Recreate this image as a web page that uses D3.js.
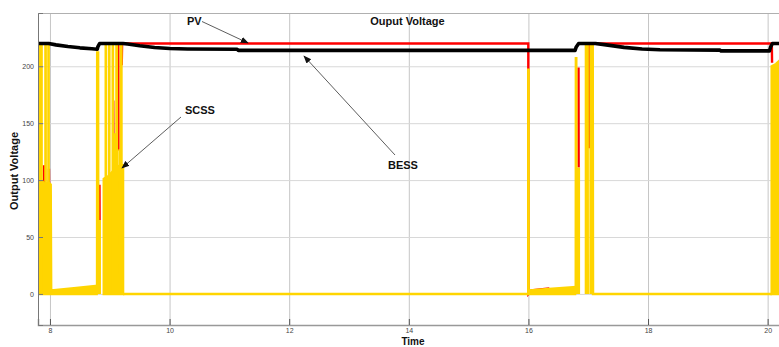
<!DOCTYPE html>
<html><head><meta charset="utf-8">
<script src="https://cdn.jsdelivr.net/npm/d3@7"></script>
<style>
body{margin:0;background:#fff}
svg{display:block}
text{font-family:"Liberation Sans",Arial,Helvetica,sans-serif}
</style>
</head><body>
<svg id="c" width="779" height="347"></svg>
<script>
// ---- data ----
const xTicks = [8, 10, 12, 14, 16, 18, 20];
const yTicks = [0, 50, 100, 150, 200];
const xDomain = [7.8, 20.2];
const yDomain = [-27.3, 246.8];

// PV output voltage (red); null breaks the line
const pvData = [
  [7.803,110],[7.806,80],null,
  [7.900,113],[7.903,83],null,
  [7.983,110],[7.986,87],null,
  [8.03,3],[8.2,2.5],null,
  [8.828,96],[8.830,65],null,
  [9.058,170],[9.061,140],null,
  [9.143,220],[9.146,126],null,
  [9.200,201],[9.206,220],[15.998,220],[16.001,0],[16.05,3],[16.35,4.8],null,
  [16.838,199],[16.840,111],null,
  [17.013,128],[17.017,220],[20.07,220],[20.074,203]
];

// BESS output voltage (black)
const bessData = [
  [7.8,220],[7.98,220],[8.1,218.8],[8.3,217.3],[8.5,216.2],[8.7,215.4],[8.79,215],
  [8.80,217],[8.83,220],[9.22,220],[9.3,219.5],[9.5,218],[9.75,216.5],[10.0,215.6],
  [10.3,215.2],[11.13,215],[11.15,214],[16.78,214],[16.80,217],[16.84,220],[17.12,220],
  [17.3,218.8],[17.6,216.6],[17.9,215.2],[18.2,214.5],[19.2,214.2],[19.22,213.5],
  [20.03,213.5],[20.05,217],[20.08,220],[20.2,220]
];

// SCSS output voltage (yellow): dense-switching envelopes [t, upper], lower = 0
const scssBandA = [[7.80,100],[7.83,97],[7.87,99],[7.92,96],[7.97,98],[8.012,96],[8.02,3],[8.4,5],[8.78,7]];
const scssBandC = [[8.90,101],[8.97,103],[9.04,107],[9.11,111],[9.18,113],[9.222,113]];
const scssBandD = [[16.01,3],[16.4,4.5],[16.78,6]];
const scssBandE = [[20.068,200],[20.14,202],[20.2,205]];

// SCSS spikes and baseline
const scssData = [
  [7.824,0],[7.824,219],[7.827,219],[7.827,0],null,
  [7.857,0],[7.857,219],[7.860,219],[7.860,0],null,
  [7.925,0],[7.925,219],[7.928,219],[7.928,0],null,
  [7.975,0],[7.975,219],[7.978,219],[7.978,0],null,
  [8.788,0],[8.790,212],[8.805,212],[8.807,0],null,
  [8.832,0],[8.832,65],null,
  [8.933,0],[8.933,219],[8.936,219],[8.936,0],null,
  [8.990,0],[8.990,219],[8.993,219],[8.993,0],null,
  [9.050,0],[9.050,219],[9.053,219],[9.053,0],null,
  [9.075,0],[9.075,140],[9.078,140],[9.078,0],null,
  [9.112,0],[9.112,219],[9.118,219],[9.120,0],null,
  [9.165,0],[9.165,126],[9.168,126],[9.168,0],null,
  [9.185,0],[9.185,219],[9.195,219],[9.197,0],null,
  [9.222,0],[15.998,0],[15.998,197],[16.003,197],[16.003,0],null,
  [16.792,0],[16.794,207],[16.800,207],[16.802,0],null,
  [16.843,0],[16.843,111],null,
  [16.962,0],[16.962,219],[16.990,219],[16.992,0],null,
  [17.040,0],[17.040,219],[17.075,219],[17.080,0],[20.07,0]
];

// ---- layout ----
const pLeft = 38, pRight = 779.6, pTop = 13, pBottom = 325;

const svg = d3.select("#c");
const x = d3.scaleLinear().domain(xDomain).range([pLeft, pRight]);
const y = d3.scaleLinear().domain(yDomain).range([pBottom, pTop]);

const defs = svg.append("defs");
defs.append("clipPath").attr("id","clip")
  .append("rect").attr("x",pLeft).attr("y",pTop).attr("width",pRight-pLeft).attr("height",pBottom-pTop);
const mk = defs.append("marker").attr("id","arr")
  .attr("viewBox","0 0 10 10").attr("refX",9).attr("refY",5)
  .attr("markerWidth",8).attr("markerHeight",8).attr("markerUnits","userSpaceOnUse")
  .attr("orient","auto");
mk.append("path").attr("d","M0,1 L10,5 L0,9 Z").attr("fill","#111");

// grid
const gx = svg.append("g").attr("transform",`translate(0,${pBottom})`)
  .call(d3.axisBottom(x).tickValues(xTicks).tickSize(-(pBottom-pTop)).tickFormat(""));
gx.select(".domain").remove();
gx.selectAll("line").attr("stroke","#c6c6c6").attr("stroke-width",1);
const gy = svg.append("g").attr("transform",`translate(${pLeft},0)`)
  .call(d3.axisLeft(y).tickValues(yTicks).tickSize(-(pRight-pLeft)).tickFormat(""));
gy.select(".domain").remove();
gy.selectAll("line").attr("stroke","#d8d8d8").attr("stroke-width",1);

// frame
svg.append("line").attr("x1",pLeft).attr("x2",pRight).attr("y1",pTop+0.5).attr("y2",pTop+0.5).attr("stroke","#b0b0b0");

// plot
const plot = svg.append("g").attr("clip-path","url(#clip)");
const line = d3.line().defined(d => d !== null).x(d => x(d[0])).y(d => y(d[1]));
const area = d3.area().x(d => x(d[0])).y0(y(0)).y1(d => y(d[1]));

plot.append("path").datum(pvData).attr("d",line)
  .attr("fill","none").attr("stroke","#ff0000").attr("stroke-width",2.4).attr("stroke-linejoin","miter");

[scssBandA, scssBandC, scssBandD, scssBandE].forEach(b => {
  plot.append("path").datum(b).attr("d",area)
    .attr("fill","#ffd500").attr("stroke","#ffd500").attr("stroke-width",2.5);
});
plot.append("path").datum(scssData).attr("d",line)
  .attr("fill","none").attr("stroke","#ffd500").attr("stroke-width",2.5).attr("stroke-linejoin","miter");

plot.append("path").datum(bessData).attr("d",line)
  .attr("fill","none").attr("stroke","#000").attr("stroke-width",3.6).attr("stroke-linejoin","round");

// axes
const ax = svg.append("g").attr("transform",`translate(0,${pBottom})`)
  .call(d3.axisBottom(x).tickValues(xTicks).tickSize(-6).tickPadding(3).tickFormat(d3.format("d")));
ax.select(".domain").attr("stroke","#999").attr("stroke-width",1.5);
ax.selectAll(".tick line").attr("stroke","#555");
ax.selectAll("text").attr("font-size",7).attr("fill","#444").attr("font-family","Liberation Sans, Arial, sans-serif");

const ay = svg.append("g").attr("transform",`translate(${pLeft},0)`)
  .call(d3.axisLeft(y).tickValues(yTicks).tickSize(-5).tickPadding(4).tickFormat(d3.format("d")));
ay.select(".domain").attr("stroke","#777").attr("stroke-width",1);
ay.selectAll(".tick line").attr("stroke","#777");
ay.selectAll("text").attr("font-size",7).attr("fill","#444").attr("font-family","Liberation Sans, Arial, sans-serif");

// titles
function txt(s, px, py, anchor, fs) {
  return svg.append("text").attr("x",px).attr("y",py).attr("text-anchor",anchor||"start")
    .attr("font-weight","bold").attr("font-size",fs||11).attr("fill","#111").text(s);
}
txt("Ouput Voltage", 407.5, 25, "middle");
txt("Time", 413, 344.8, "middle", 10);
txt("Output Voltage", 0, 0, "middle").attr("transform","translate(18,171) rotate(-90)");

// annotations
txt("PV", 187, 25);
svg.append("line").attr("x1",202).attr("y1",21.5).attr("x2",248).attr("y2",43)
  .attr("stroke","#333").attr("stroke-width",0.8).attr("marker-end","url(#arr)");
txt("SCSS", 185, 114);
svg.append("line").attr("x1",181).attr("y1",117).attr("x2",122).attr("y2",168)
  .attr("stroke","#333").attr("stroke-width",0.8).attr("marker-end","url(#arr)");
txt("BESS", 388, 169);
svg.append("line").attr("x1",395).attr("y1",155).attr("x2",304).attr("y2",56)
  .attr("stroke","#333").attr("stroke-width",0.8).attr("marker-end","url(#arr)");
</script>
</body></html>
